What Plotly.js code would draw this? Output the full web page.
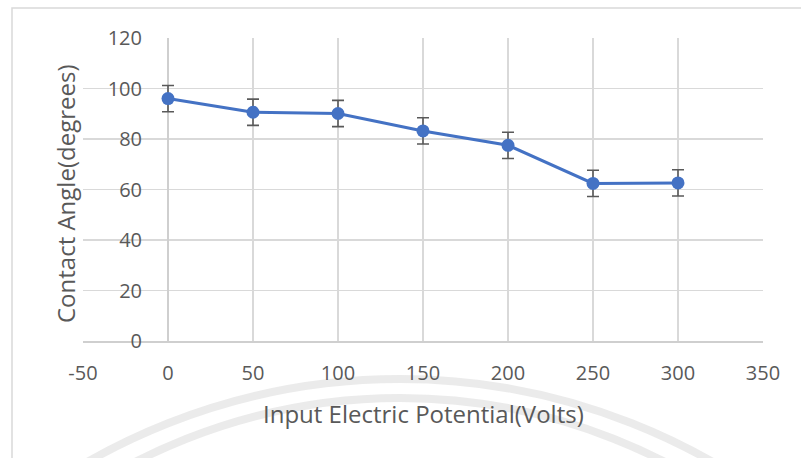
<!DOCTYPE html>
<html>
<head>
<meta charset="utf-8">
<script src="https://cdn.plot.ly/plotly-3.0.1.min.js"></script>
<style>html,body{margin:0;padding:0;background:#fff;}#chart{width:801px;height:458px;}</style>
</head>
<body>
<div id="chart"></div>
<script>
const voltage = [0, 50, 100, 150, 200, 250, 300];
const contactAngle = [96.0, 90.6, 90.1, 83.2, 77.5, 62.4, 62.6];
const errorPlusMinus = [5.2, 5.2, 5.2, 5.2, 5.2, 5.2, 5.2];
const xTicks = [-50, 0, 50, 100, 150, 200, 250, 300, 350];
const yTicks = [0, 20, 40, 60, 80, 100, 120];
const xTitle = 'Input Electric Potential(Volts)';
const yTitle = 'Contact Angle(degrees)';

// plot area in px: left 83, right 763, top 38, bottom 341
const L = 83, R = 763, T = 38, B = 341;
const W = R - L, H = B - T;
const px = v => (v - L) / W;
const py = v => (B - v) / H;

function circ(cx, cy, r, w) {
  return {type: 'circle', xref: 'paper', yref: 'paper', layer: 'below',
    x0: px(cx - r), x1: px(cx + r), y0: py(cy + r), y1: py(cy - r),
    line: {color: 'rgba(228,228,228,0.75)', width: w}};
}

const trace = {
  x: voltage, y: contactAngle, type: 'scatter', mode: 'lines+markers',
  line: {color: '#4472C4', width: 3},
  marker: {color: '#4472C4', size: 13},
  error_y: {type: 'data', array: errorPlusMinus, visible: true, color: '#595959', thickness: 1.6, width: 6},
  hoverinfo: 'x+y'
};

const fam = 'Open Sans, Noto Sans, sans-serif';
const grey = '#595959';

const layout = {
  width: 801, height: 458,
  margin: {l: L, r: 801 - R, t: T, b: 458 - B, pad: 0},
  paper_bgcolor: '#ffffff', plot_bgcolor: 'rgba(0,0,0,0)',
  showlegend: false,
  font: {family: fam, color: grey},
  xaxis: {
    range: [-50, 350], tickmode: 'array', tickvals: xTicks, ticktext: xTicks.map(String),
    showgrid: true, gridcolor: '#d9d9d9', gridwidth: 1.5,
    zeroline: true, zerolinecolor: '#cfcfcf', zerolinewidth: 1.8,
    showline: true, linecolor: '#cfcfcf', linewidth: 1.8,
    ticks: 'outside', ticklen: 0, ticklabelstandoff: 13,
    tickfont: {family: fam, color: grey, size: 20}
  },
  yaxis: {
    range: [0, 120], tickmode: 'array', tickvals: yTicks, ticktext: yTicks.map(String),
    showgrid: true, gridcolor: '#d9d9d9', gridwidth: 1.5,
    zeroline: false, showline: false,
    anchor: 'free', position: px(168),
    ticks: 'outside', ticklen: 0, ticklabelstandoff: 22,
    tickfont: {family: fam, color: grey, size: 20}
  },
  annotations: [
    {text: xTitle, xref: 'paper', yref: 'paper', x: px(423), y: py(413), showarrow: false,
     xanchor: 'center', yanchor: 'middle', font: {family: fam, color: grey, size: 24}},
    {text: yTitle, xref: 'paper', yref: 'paper', x: px(65), y: py(194), showarrow: false, textangle: -90,
     xanchor: 'center', yanchor: 'middle', font: {family: fam, color: grey, size: 24}}
  ],
  shapes: [
    circ(400, 1009, 630, 8),
    circ(400, 978, 580, 8),
    {type: 'rect', xref: 'paper', yref: 'paper', layer: 'below',
     x0: px(12), x1: px(815), y0: py(470), y1: py(8),
     line: {color: '#d9d9d9', width: 1.5}}
  ]
};

Plotly.newPlot('chart', [trace], layout, {displayModeBar: false, staticPlot: true});
</script>
</body>
</html>
